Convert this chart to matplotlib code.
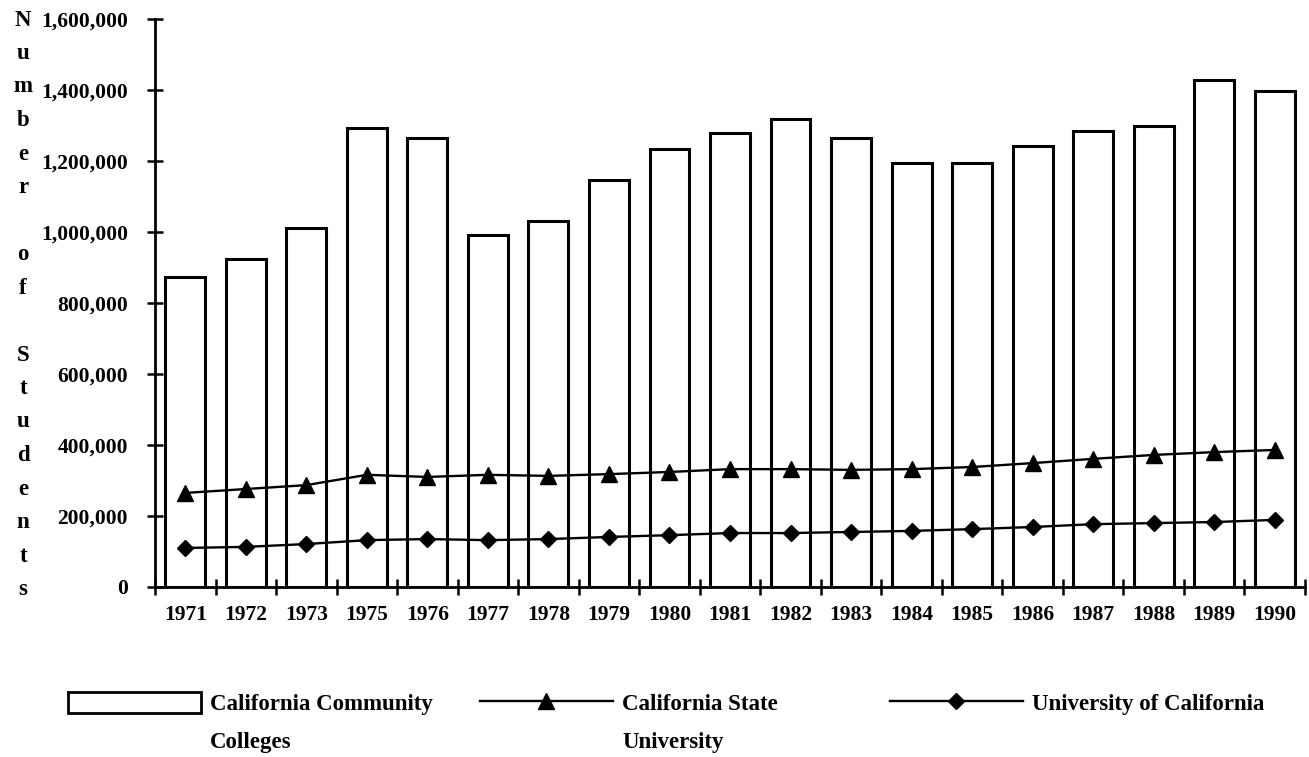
import matplotlib
matplotlib.use("Agg")
import matplotlib.pyplot as plt
from matplotlib.lines import Line2D
from matplotlib.patches import Patch
from matplotlib.ticker import StrMethodFormatter, MultipleLocator
import numpy as np

# Data
years = ["1971", "1972", "1973", "1975", "1976", "1977", "1978", "1979", "1980", "1981",
         "1982", "1983", "1984", "1985", "1986", "1987", "1988", "1989", "1990"]
community_colleges = [873000, 924000, 1011000, 1293000, 1265000, 992000, 1031000, 1147000,
                      1234000, 1279000, 1318000, 1265000, 1194000, 1194000, 1242000, 1285000,
                      1299000, 1428000, 1397000]
csu = [265000, 276000, 287000, 316000, 310000, 316000, 313000, 318000, 324000, 332000,
       332000, 330000, 332000, 338000, 349000, 361000, 372000, 380000, 386000]
uc = [110000, 113000, 121000, 132000, 135000, 132000, 135000, 141000, 146000, 152000,
      152000, 155000, 158000, 163000, 169000, 177000, 180000, 183000, 189000]

ylabel_lines = list("Number") + [""] + list("of") + [""] + list("Students")

plt.rcParams["font.family"] = ["Liberation Serif", "DejaVu Serif"]
plt.rcParams["font.weight"] = "bold"

W, H = 1309, 757
fig = plt.figure(figsize=(W / 100, H / 100), dpi=100)
ax = fig.add_axes([155 / W, 1 - 587 / H, 1150 / W, 568 / H])

x = np.arange(len(years))
ax.bar(x, community_colleges, width=0.66, color="white", edgecolor="black", linewidth=2.2, zorder=2)
ax.plot(x, csu, color="black", lw=1.7, marker="^", ms=12, zorder=3)
ax.plot(x, uc, color="black", lw=1.7, marker="D", ms=8.5, zorder=3)

ax.set_xlim(-0.5, len(years) - 0.5)
ax.set_ylim(0, 1600000)
ax.yaxis.set_major_locator(MultipleLocator(200000))
ax.yaxis.set_major_formatter(StrMethodFormatter("{x:,.0f}"))

ax.set_xticks(x)
ax.set_xticklabels(years)
ax.set_xticks(np.arange(-0.5, len(years)), minor=True)
ax.tick_params(axis="x", which="major", length=0, pad=13, labelsize=15.5)
ax.tick_params(axis="x", which="minor", direction="inout", length=11, width=1.8)
ax.tick_params(axis="y", direction="inout", length=11, width=1.8, pad=14, labelsize=15.5)

for side in ["top", "right"]:
    ax.spines[side].set_visible(False)
for side in ["left", "bottom"]:
    ax.spines[side].set_linewidth(2)

# vertical stacked y label
for i, ch in enumerate(ylabel_lines):
    if ch:
        fig.text(23 / W, 1 - (20 + i * 33.5) / H, ch, ha="center", va="center",
                 fontsize=16.5, fontweight="bold")

# legend: three separate blocks
blank = Line2D([], [], color="none")
items = [
    (Patch(facecolor="white", edgecolor="black", linewidth=2), ["California Community", "Colleges"], 68),
    (Line2D([], [], color="black", lw=1.7, marker="^", ms=12), ["California State", "University"], 480),
    (Line2D([], [], color="black", lw=1.7, marker="D", ms=8.5), ["University of California"], 890),
]
for handle, labels, xpx in items:
    hs = [handle] + [blank] * (len(labels) - 1)
    fig.legend(hs, labels, loc="upper left", bbox_to_anchor=(xpx / W, 1 - 692 / H),
               frameon=False, borderpad=0, borderaxespad=0, handlelength=5.8,
               handleheight=1.05, handletextpad=0.4, labelspacing=0.6,
               prop={"family": "Liberation Serif", "weight": "bold", "size": 16.5})

fig.savefig("out.png", dpi=100)
